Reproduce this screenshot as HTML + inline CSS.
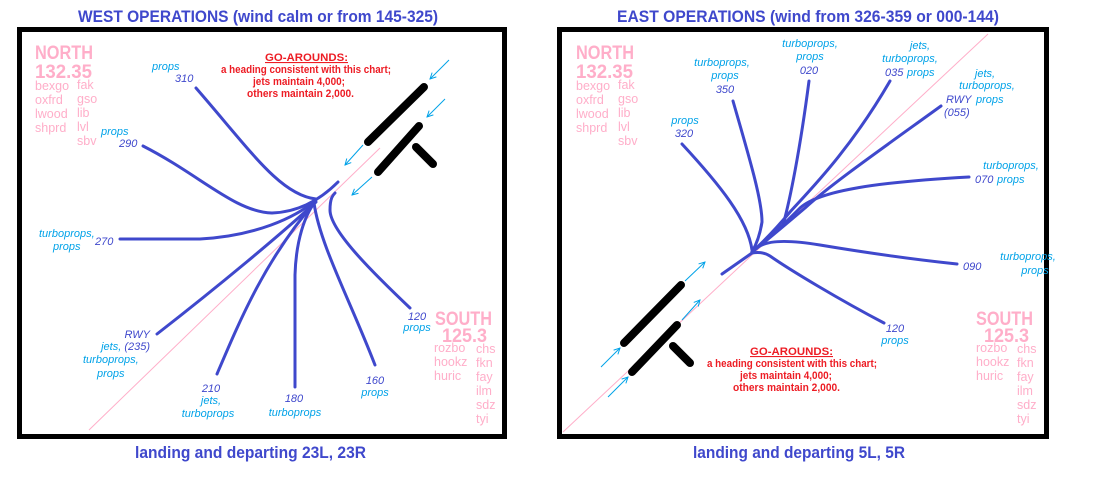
<!DOCTYPE html>
<html><head><meta charset="utf-8"><style>
html,body{margin:0;padding:0;background:#fff;width:1100px;height:500px;overflow:hidden}
svg{display:block}
text{font-family:"Liberation Sans",sans-serif}
.t{font-size:17px;font-weight:bold;fill:#3f48cc}
.nb{font-size:19px;font-weight:bold;fill:#ffaec9}
.fx{font-size:12.5px;fill:#ffaec9}
.r{stroke:#3f48cc;stroke-width:3;fill:none;stroke-linecap:round}
.w{stroke:#000;stroke-width:8;stroke-linecap:round}
.a{stroke:#00a2e8;stroke-width:1;fill:none}
.pl{stroke:#ffaec9;stroke-width:1}
.c{font-size:11px;font-style:italic;fill:#00a2e8}
.n{font-size:11px;font-style:italic;fill:#3f48cc}
.g{font-size:11px;font-weight:bold;fill:#ed1c24}
</style></head><body>
<svg width="1100" height="500" viewBox="0 0 1100 500">
<defs><marker id="ar" markerWidth="8" markerHeight="8" refX="7" refY="4" orient="auto" markerUnits="userSpaceOnUse"><path d="M1,1 L7,4 L1,7" fill="none" stroke="#00a2e8" stroke-width="1"/></marker></defs>

<text class="t" x="78" y="22" textLength="360" lengthAdjust="spacingAndGlyphs">WEST OPERATIONS (wind calm or from 145-325)</text>
<text class="t" x="617" y="22" textLength="382" lengthAdjust="spacingAndGlyphs">EAST OPERATIONS (wind from 326-359 or 000-144)</text>
<text class="t" x="135" y="458" textLength="231" lengthAdjust="spacingAndGlyphs">landing and departing 23L, 23R</text>
<text class="t" x="693" y="458" textLength="212" lengthAdjust="spacingAndGlyphs">landing and departing 5L, 5R</text>

<rect x="19.5" y="29.5" width="485" height="407" fill="none" stroke="#000" stroke-width="5"/>
<rect x="559.5" y="29.5" width="487" height="407" fill="none" stroke="#000" stroke-width="5"/>

<!-- LEFT -->
<line class="pl" x1="89" y1="430" x2="380" y2="148"/>
<line class="w" x1="368" y1="142" x2="424" y2="87"/>
<line class="w" x1="378" y1="172" x2="419" y2="126"/>
<line class="w" x1="416" y1="147" x2="433" y2="164"/>
<line class="a" x1="449" y1="60" x2="430" y2="79" marker-end="url(#ar)"/>
<line class="a" x1="445" y1="99" x2="427" y2="117" marker-end="url(#ar)"/>
<line class="a" x1="363" y1="145" x2="345" y2="165" marker-end="url(#ar)"/>
<line class="a" x1="372" y1="177" x2="352" y2="195" marker-end="url(#ar)"/>

<path class="r" d="M196,88 C250,150 280,195 316,199"/>
<path class="r" d="M143,146 C200,175 235,212 272,213 C300,212 322,198 338,182"/>
<path class="r" d="M120,239 L200,239 C255,236 295,218 316,200"/>
<path class="r" d="M157,334 C220,285 280,235 316,202"/>
<path class="r" d="M217,374 C240,320 265,260 315,202"/>
<path class="r" d="M295,387 L295,275 C296,240 305,215 315,202"/>
<path class="r" d="M375,365 C350,300 320,245 314,203"/>
<path class="r" d="M410,308 C370,270 330,230 330,210 C330,198 333,195 335,193"/>

<text class="nb" x="35" y="59" textLength="58" lengthAdjust="spacingAndGlyphs">NORTH</text>
<text class="nb" x="35" y="78" textLength="57" lengthAdjust="spacingAndGlyphs">132.35</text>
<text class="fx" x="35" y="90">bexgo</text><text class="fx" x="35" y="104">oxfrd</text><text class="fx" x="35" y="118">lwood</text><text class="fx" x="35" y="132">shprd</text>
<text class="fx" x="77" y="89">fak</text><text class="fx" x="77" y="103">gso</text><text class="fx" x="77" y="117">lib</text><text class="fx" x="77" y="131">lvl</text><text class="fx" x="77" y="145">sbv</text>
<text class="nb" x="435" y="325" textLength="57" lengthAdjust="spacingAndGlyphs">SOUTH</text>
<text class="nb" x="442" y="342" textLength="45" lengthAdjust="spacingAndGlyphs">125.3</text>
<text class="fx" x="434" y="352">rozbo</text><text class="fx" x="434" y="366">hookz</text><text class="fx" x="434" y="380">huric</text>
<text class="fx" x="476" y="353">chs</text><text class="fx" x="476" y="367">fkn</text><text class="fx" x="476" y="381">fay</text><text class="fx" x="476" y="395">ilm</text><text class="fx" x="476" y="409">sdz</text><text class="fx" x="476" y="423">tyi</text>

<text class="g" x="265" y="61" textLength="83" lengthAdjust="spacingAndGlyphs" text-decoration="underline">GO-AROUNDS:</text>
<text class="g" x="221" y="73" textLength="170" lengthAdjust="spacingAndGlyphs">a heading consistent with this chart;</text>
<text class="g" x="253" y="85" textLength="92" lengthAdjust="spacingAndGlyphs">jets maintain 4,000;</text>
<text class="g" x="247" y="97" textLength="107" lengthAdjust="spacingAndGlyphs">others maintain 2,000.</text>

<text class="c" x="152" y="70">props</text><text class="n" x="175" y="82">310</text>
<text class="c" x="101" y="135">props</text><text class="n" x="119" y="147">290</text>
<text class="c" x="39" y="237">turboprops,</text><text class="c" x="53" y="250">props</text><text class="n" x="95" y="245">270</text>
<text class="n" x="150" y="338" text-anchor="end">RWY</text>
<text class="c" x="150" y="350" text-anchor="end">jets, <tspan class="n">(235)</tspan></text>
<text class="c" x="83" y="363">turboprops,</text><text class="c" x="97" y="377">props</text>
<text class="n" x="211" y="392" text-anchor="middle">210</text><text class="c" x="211" y="404" text-anchor="middle">jets,</text><text class="c" x="208" y="417" text-anchor="middle">turboprops</text>
<text class="n" x="294" y="402" text-anchor="middle">180</text><text class="c" x="295" y="416" text-anchor="middle">turboprops</text>
<text class="n" x="375" y="384" text-anchor="middle">160</text><text class="c" x="375" y="396" text-anchor="middle">props</text>
<text class="n" x="417" y="320" text-anchor="middle">120</text><text class="c" x="417" y="331" text-anchor="middle">props</text>

<!-- RIGHT -->
<line class="pl" x1="563" y1="432" x2="988" y2="34"/>
<line class="w" x1="624" y1="343" x2="681" y2="285"/>
<line class="w" x1="632" y1="372" x2="677" y2="325"/>
<line class="w" x1="673" y1="346" x2="690" y2="363"/>
<line class="a" x1="601" y1="367" x2="620" y2="348" marker-end="url(#ar)"/>
<line class="a" x1="608" y1="397" x2="628" y2="377" marker-end="url(#ar)"/>
<line class="a" x1="685" y1="281" x2="705" y2="262" marker-end="url(#ar)"/>
<line class="a" x1="682" y1="320" x2="700" y2="300" marker-end="url(#ar)"/>

<path class="r" d="M682,144 C720,185 748,220 752,250"/>
<path class="r" d="M733,101 C750,160 762,200 762,222 C760,235 756,245 752,252"/>
<path class="r" d="M809,81 C800,150 790,200 783,225 C770,238 760,245 752,252"/>
<path class="r" d="M890,81 C850,150 810,190 790,212 C775,230 762,243 752,252"/>
<path class="r" d="M941,106 C880,150 830,185 805,208 C785,225 765,242 752,252"/>
<path class="r" d="M969,177 C880,182 820,190 800,208 C780,228 765,242 752,252"/>
<path class="r" d="M957,264 C900,258 850,250 820,245 C790,240 770,240 760,246"/>
<path class="r" d="M884,323 C840,300 790,270 770,256 C764,252 758,252 752,253"/>
<path class="r" d="M722,274 C735,265 745,258 752,253"/>

<text class="nb" x="576" y="59" textLength="58" lengthAdjust="spacingAndGlyphs">NORTH</text>
<text class="nb" x="576" y="78" textLength="57" lengthAdjust="spacingAndGlyphs">132.35</text>
<text class="fx" x="576" y="90">bexgo</text><text class="fx" x="576" y="104">oxfrd</text><text class="fx" x="576" y="118">lwood</text><text class="fx" x="576" y="132">shprd</text>
<text class="fx" x="618" y="89">fak</text><text class="fx" x="618" y="103">gso</text><text class="fx" x="618" y="117">lib</text><text class="fx" x="618" y="131">lvl</text><text class="fx" x="618" y="145">sbv</text>
<text class="nb" x="976" y="325" textLength="57" lengthAdjust="spacingAndGlyphs">SOUTH</text>
<text class="nb" x="984" y="342" textLength="45" lengthAdjust="spacingAndGlyphs">125.3</text>
<text class="fx" x="976" y="352">rozbo</text><text class="fx" x="976" y="366">hookz</text><text class="fx" x="976" y="380">huric</text>
<text class="fx" x="1017" y="353">chs</text><text class="fx" x="1017" y="367">fkn</text><text class="fx" x="1017" y="381">fay</text><text class="fx" x="1017" y="395">ilm</text><text class="fx" x="1017" y="409">sdz</text><text class="fx" x="1017" y="423">tyi</text>

<text class="g" x="750" y="355" textLength="83" lengthAdjust="spacingAndGlyphs" text-decoration="underline">GO-AROUNDS:</text>
<text class="g" x="707" y="367" textLength="170" lengthAdjust="spacingAndGlyphs">a heading consistent with this chart;</text>
<text class="g" x="740" y="379" textLength="92" lengthAdjust="spacingAndGlyphs">jets maintain 4,000;</text>
<text class="g" x="733" y="391" textLength="107" lengthAdjust="spacingAndGlyphs">others maintain 2,000.</text>

<text class="c" x="685" y="124" text-anchor="middle">props</text><text class="n" x="684" y="137" text-anchor="middle">320</text>
<text class="c" x="722" y="66" text-anchor="middle">turboprops,</text><text class="c" x="725" y="79" text-anchor="middle">props</text><text class="n" x="725" y="93" text-anchor="middle">350</text>
<text class="c" x="810" y="47" text-anchor="middle">turboprops,</text><text class="c" x="810" y="60" text-anchor="middle">props</text><text class="n" x="809" y="74" text-anchor="middle">020</text>
<text class="c" x="920" y="49" text-anchor="middle">jets,</text><text class="c" x="910" y="62" text-anchor="middle">turboprops,</text>
<text class="n" x="885" y="76">035</text><text class="c" x="907" y="76">props</text>
<text class="c" x="985" y="77" text-anchor="middle">jets,</text><text class="c" x="987" y="89" text-anchor="middle">turboprops,</text>
<text class="n" x="946" y="103">RWY</text><text class="c" x="976" y="103">props</text><text class="n" x="944" y="116">(055)</text>
<text class="c" x="1011" y="169" text-anchor="middle">turboprops,</text>
<text class="n" x="975" y="183">070</text><text class="c" x="997" y="183">props</text>
<text class="n" x="963" y="270">090</text>
<text class="c" x="1028" y="260" text-anchor="middle">turboprops,</text><text class="c" x="1035" y="274" text-anchor="middle">props</text>
<text class="n" x="895" y="332" text-anchor="middle">120</text><text class="c" x="895" y="344" text-anchor="middle">props</text>
</svg>
</body></html>
